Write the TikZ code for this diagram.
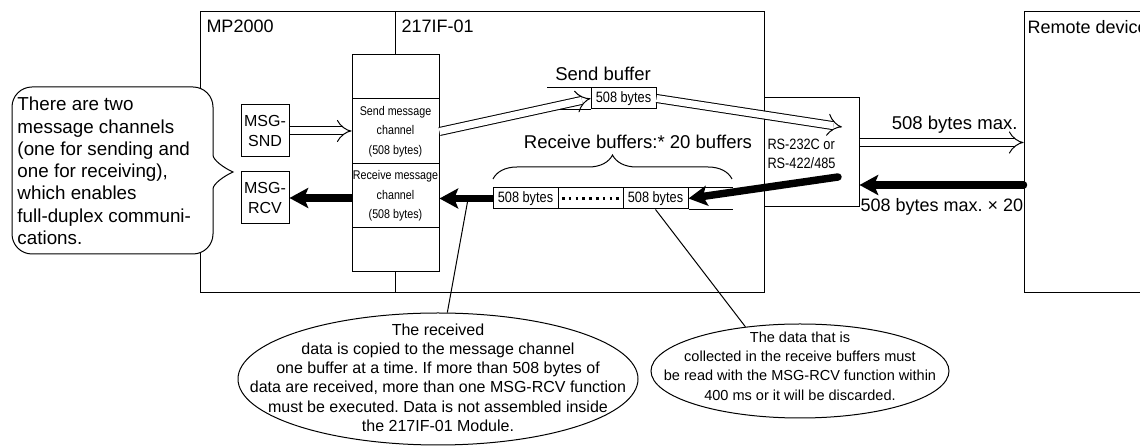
\documentclass[tikz,border=0pt]{standalone}
\usepackage{fontspec}
\setmainfont{Liberation Sans}
\newfontfamily\narrowf{Liberation Sans}[FakeStretch=0.85]
\usetikzlibrary{arrows.meta,shapes.geometric,decorations.pathreplacing}
\frenchspacing
\begin{document}
\begin{tikzpicture}[x=0.75pt,y=-0.75pt,line width=0.75pt,
  frame/.style={draw,rectangle,inner sep=0,minimum height=210.75pt},
  title/.style={inner sep=0,anchor=west,font=\fontsize{13.5}{16}\selectfont},
  lbl/.style={inner sep=0,font=\fontsize{13.9}{16}\selectfont},
  blk/.style={draw,fill=white,rectangle,inner sep=0,align=center},
  chan/.style={blk,minimum width=65.25pt,font=\narrowf\fontsize{9.45}{14.6}\selectfont},
  msg/.style={blk,minimum width=36pt,minimum height=39pt,font=\fontsize{12}{14.6}\selectfont},
  buf/.style={blk,minimum width=48.75pt,minimum height=15.75pt,font=\narrowf\fontsize{11.25}{13}\selectfont},
  dbl/.style={double,double distance=5.25pt,line width=0.75pt,-{Implies}},
  fatarrow/.style={line width=5.6pt,-{Stealth[length=14pt,width=15pt,inset=3pt]}},
  oval/.style={draw,ellipse,fill=white,inner sep=0},
  ovaltext/.style={align=center,inner sep=0}
]
\useasboundingbox (0,0) rectangle (1140,448);
\clip (0,0) rectangle (1140,448);

% frames
\node[frame,minimum width=146.25pt] (mp) at (297.5,152.5) {};
\node[frame,minimum width=276.75pt] (ifm) at (579.5,152.5) {};
\node[frame,minimum width=120pt] (rem) at (1104,152.5) {};
\node[title] (mpt) at (206,26) {MP2000};
\node[title] (ift) at (401,26) {217IF-01};
\node[title] (remt) at (1027,27) {Remote device};

% message channels
\node[chan,minimum height=33pt] (chtop) at (395.5,77) {};
\node[chan,minimum height=48.75pt] (chsend) at (395.5,131.5) {Send message\\channel\\(508 bytes)};
\node[chan,minimum height=48pt] (chrecv) at (395.5,196) {Receive message\\channel\\(508 bytes)};
\node[chan,minimum height=33pt] (chbot) at (395.5,250) {};

% MSG function blocks
\node[msg] (snd) at (265,131) {MSG-\\SND};
\node[msg] (rcv) at (265,198) {MSG-\\RCV};

% send buffer
\node[buf] (sbuf) at (623.5,98.5) {508 bytes};
\draw (sbuf.north west) -- ++(-44,0);
\draw (sbuf.south west) -- ++(-44,0);
\node[lbl] (sbt) at (603,74) {Send buffer};

% receive buffers
\node[buf] (rb1) at (525.5,198.5) {508 bytes};
\node[buf] (rb2) at (590.5,198.5) {};
\node[buf] (rb3) at (655.5,198.5) {508 bytes};
\draw (rb3.north east) -- ++(44,0);
\draw (rb3.south east) -- ++(44,0);
\draw[line width=1.7pt,dash pattern=on 1.9pt off 3.2pt] ([xshift=-21.4pt]rb2.center) -- ([xshift=21.4pt]rb2.center);
\coordinate (bl) at (493,179);
\coordinate (br) at (732,179);
\draw[decorate,decoration={brace,amplitude=18pt}] (bl) -- (br);
\node[lbl] (rbt) at (638,142) {Receive buffers:* 20 buffers};

% RS interface
\node[blk,minimum width=71.25pt,minimum height=81.75pt] (rs) at (811.5,152.5) {};
\node[inner sep=0,anchor=west,align=left,font=\narrowf\fontsize{11.25}{14.25}\selectfont] (rst) at (767,153.5) {RS-232C or\\RS-422/485};

\coordinate (rsin) at (842,127);
\coordinate (rsout) at (838,177);
\coordinate (ytx) at (0,142.5);
\coordinate (yrx) at (0,185);

% send path
\draw[dbl] (snd.east) -- (snd.east -| chsend.west);
\draw[dbl] (chsend.east) -- (sbuf.west);
\draw[dbl] (sbuf.east) -- (rsin);
\draw[dbl] (rs.east |- ytx) -- (rem.west |- ytx);
\node[lbl,anchor=east] (txl) at (1018,125) {508 bytes max.};

% receive path
\draw[fatarrow,line cap=round] (rem.west |- yrx) -- (rs.east |- yrx);
\node[title] (rxl) at (860,207) {508 bytes max. × 20};
\draw[fatarrow,line cap=round] (rsout) -- (rb3.east);
\draw[fatarrow] (rb1.west) -- coordinate[pos=0.46] (p1) (rb1.west -| chrecv.east);
\draw[fatarrow] (rcv.east -| chrecv.west) -- (rcv.east);

% callout
\filldraw[fill=white,rounded corners=15pt]
  (233,172) .. controls (224,168) and (213,160) .. (213,135)
  -- (213,87) -- (12,87) -- (12,254) -- (213,254) -- (213,209)
  [sharp corners] .. controls (213,184) and (224,176) .. (233,172) -- cycle;
\node[anchor=west,align=left,inner sep=0,font=\fontsize{14.1}{16.7}\selectfont] (ct) at (17,171) {There are two\\message channels\\(one for sending and\\one for receiving),\\which enables\\full-duplex communi-\\cations.};

% explanation ellipses
\node[oval,minimum width=300pt,minimum height=99pt] (e1) at (438,379) {};
\node[ovaltext,font=\fontsize{12}{14.4}\selectfont] (e1t) at (438,377.5) {The received\\data is copied to the message channel\\one buffer at a time. If more than 508 bytes of\\data are received, more than one MSG-RCV function\\must be executed. Data is not assembled inside\\the 217IF-01 Module.};
\node[oval,minimum width=223.5pt,minimum height=70.5pt] (e2) at (800,371) {};
\node[ovaltext,font=\fontsize{10.9}{14.5}\selectfont] (e2t) at (800,366) {The data that is\\collected in the receive buffers must\\be read with the MSG-RCV function within\\400 ms or it will be discarded.};
\draw (p1) -- (e1.82);
\draw (rb3.south) -- (e2.141);
\end{tikzpicture}
\end{document}
